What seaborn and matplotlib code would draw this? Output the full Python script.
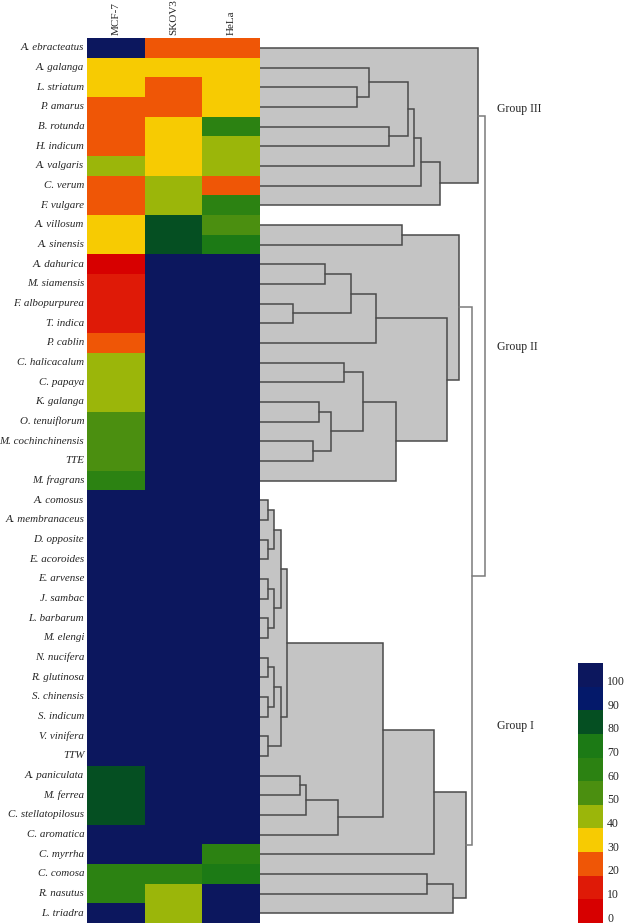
import numpy as np
import pandas as pd
import matplotlib
matplotlib.use('Agg')
import matplotlib.pyplot as plt
from matplotlib.colors import ListedColormap, BoundaryNorm
import seaborn as sns

# plant extracts, top to bottom (dendrogram leaf order)
species = ['A. ebracteatus', 'A. galanga', 'L. striatum', 'P. amarus', 'B. rotunda',
           'H. indicum', 'A. valgaris', 'C. verum', 'F. vulgare', 'A. villosum',
           'A. sinensis', 'A. dahurica', 'M. siamensis', 'F. albopurpurea', 'T. indica',
           'P. cablin', 'C. halicacalum', 'C. papaya', 'K. galanga', 'O. tenuiflorum',
           'M. cochinchinensis', 'TTE', 'M. fragrans', 'A. comosus', 'A. membranaceus',
           'D. opposite', 'E. acoroides', 'E. arvense', 'J. sambac', 'L. barbarum',
           'M. elengi', 'N. nucifera', 'R. glutinosa', 'S. chinensis', 'S. indicum',
           'V. vinifera', 'TTW', 'A. paniculata', 'M. ferrea', 'C. stellatopilosus',
           'C. aromatica', 'C. myrrha', 'C. comosa', 'R. nasutus', 'L. triadra']
cell_lines = ['MCF-7', 'SKOV3', 'HeLa']

# cell viability (%) per cell line
mcf7 = [100, 30, 30, 20, 20, 20, 40, 20, 20, 30, 30, 0, 10, 10, 10, 20, 40, 40, 40, 50, 50, 50, 60,
        100, 100, 100, 100, 100, 100, 100, 100, 100, 100, 100, 100, 100, 100,
        80, 80, 80, 100, 100, 60, 60, 100]
skov3 = [20, 30, 20, 20, 30, 30, 30, 40, 40, 80, 80, 100, 100, 100, 100, 100, 100, 100, 100, 100,
         100, 100, 100, 100, 100, 100, 100, 100, 100, 100, 100, 100, 100, 100, 100, 100, 100,
         100, 100, 100, 100, 100, 60, 40, 40]
hela = [20, 30, 30, 30, 60, 40, 40, 20, 60, 50, 70, 100, 100, 100, 100, 100, 100, 100, 100, 100,
        100, 100, 100, 100, 100, 100, 100, 100, 100, 100, 100, 100, 100, 100, 100, 100, 100,
        100, 100, 100, 100, 60, 70, 100, 100]

# colour scale levels (0 .. 100)
levels = [0, 10, 20, 30, 40, 50, 60, 70, 80, 90, 100]
level_colors = ['#d70000', '#df1a07', '#ef5606', '#f7cb02', '#9bb60a', '#4b8f10',
                '#2c8212', '#1c7a15', '#054f22', '#04196a', '#0c175e']

# dendrogram merges: (child a, child b, distance); leaves are 0..44, new nodes 45..
group_links = [
    # group III
    (2, 3, 97), (1, 45, 109), (4, 5, 129), (46, 47, 148), (48, 6, 154),
    (49, 7, 161), (50, 8, 180), (0, 51, 218),
    # group II
    (9, 10, 142), (11, 12, 65), (13, 14, 33), (54, 55, 91), (56, 15, 116),
    (16, 17, 84), (18, 19, 59), (20, 21, 53), (59, 60, 71), (58, 61, 103),
    (62, 22, 136), (57, 63, 187), (53, 64, 199),
    # group I
    (23, 24, 8), (25, 26, 8), (27, 28, 8), (29, 30, 8), (31, 32, 8),
    (33, 34, 8), (35, 36, 8), (66, 67, 14), (68, 69, 14), (73, 74, 21),
    (70, 71, 14), (76, 72, 21), (75, 77, 27), (37, 38, 40), (79, 39, 46),
    (80, 40, 78), (78, 81, 123), (82, 41, 174), (42, 43, 167), (84, 44, 193),
    (83, 85, 206),
]
root_links = [(65, 86, 212), (52, 87, 225)]
group_names = ['Group III', 'Group II', 'Group I']

df = pd.DataFrame({'MCF-7': mcf7, 'SKOV3': skov3, 'HeLa': hela}, index=species)[cell_lines]

sns.set_style('white')
plt.rcParams['font.family'] = ['Liberation Serif', 'DejaVu Serif']

W, H = 624, 923
fig = plt.figure(figsize=(W / 100, H / 100), dpi=100)
top = 38
ax_hm = fig.add_axes([87 / W, 0, (260 - 87) / W, (H - top) / H])
ax_dn = fig.add_axes([260 / W, 0, (W - 260) / W, (H - top) / H])
cax = fig.add_axes([578 / W, 0, 25 / W, 260 / H])

cmap = ListedColormap(level_colors)
bounds = [v - 5 for v in levels] + [levels[-1] + 5]
norm = BoundaryNorm(bounds, cmap.N)

sns.heatmap(df, ax=ax_hm, cmap=cmap, norm=norm, cbar_ax=cax,
            xticklabels=cell_lines, yticklabels=species, linewidths=0)
ax_hm.xaxis.tick_top()
ax_hm.tick_params(axis='y', length=0, pad=2)
ax_hm.tick_params(axis='x', length=0, pad=2)
ax_hm.set_xticklabels(cell_lines, rotation=90, fontsize=8, va='bottom')
ax_hm.set_yticklabels(species, rotation=0, fontsize=7.9, style='italic')
ax_hm.set_xlabel('')
ax_hm.set_ylabel('')

# colour bar
cbar = ax_hm.collections[0].colorbar
cbar.set_ticks([v - 2.5 for v in levels])
cbar.set_ticklabels([str(v) for v in levels])
cbar.outline.set_visible(False)
cax.minorticks_off()
cax.tick_params(which='both', length=0, pad=3, labelsize=8.5)

# dendrogram
n = len(species)
ypos = {i: i + 0.5 for i in range(n)}
dist = {i: 0.0 for i in range(n)}
links = group_links + root_links
for k, (a, b, h) in enumerate(links):
    node = n + k
    ypos[node] = (ypos[a] + ypos[b]) / 2
    dist[node] = h

fill_col = '#c4c4c4'
for a, b, h in group_links:
    ax_dn.fill_betweenx([ypos[a], ypos[b]], 0, h, color=fill_col, lw=0, zorder=1)

for k, (a, b, h) in enumerate(links):
    col = '#4a4a4a' if k < len(group_links) else '#7a7a7a'
    ax_dn.plot([dist[a], h, h, dist[b]], [ypos[a], ypos[a], ypos[b], ypos[b]],
               color=col, lw=1.1, solid_joinstyle='miter', zorder=2)

ax_dn.set_xlim(0, W - 260)
ax_dn.set_ylim(n, 0)
ax_dn.axis('off')

for name, y in zip(group_names, [3.6, 15.7, 35.0]):
    ax_dn.text(237, y, name, fontsize=8.5, va='center', ha='left')

fig.savefig('out.png', dpi=100)
